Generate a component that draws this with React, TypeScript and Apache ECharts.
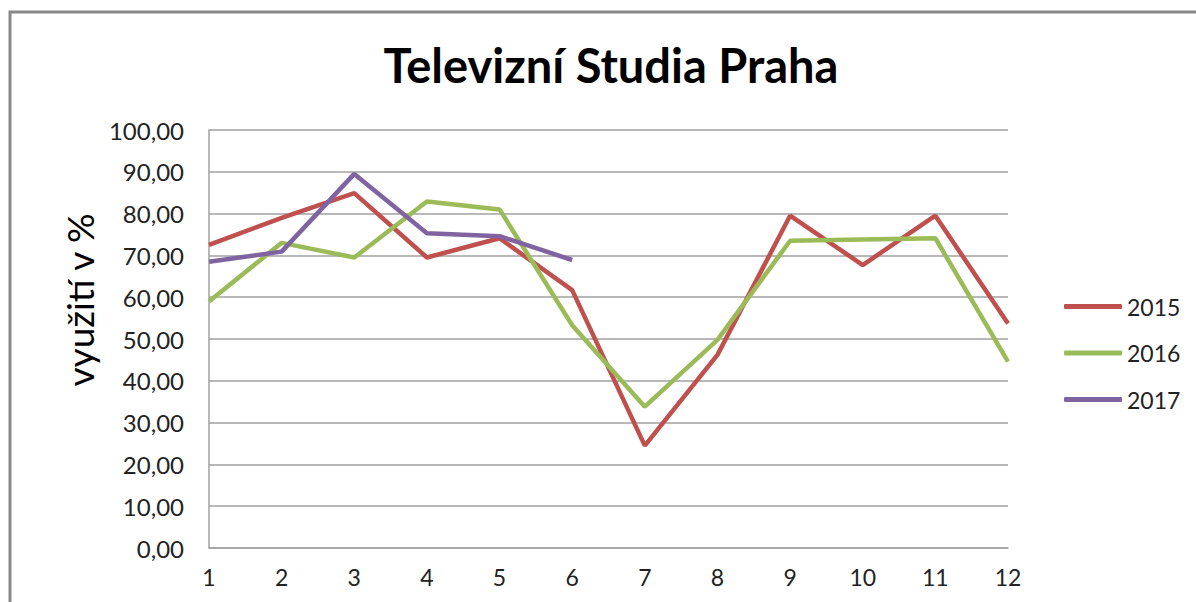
import React, { useEffect, useRef } from "react";
import * as echarts from "echarts";

const months = ["1", "2", "3", "4", "5", "6", "7", "8", "9", "10", "11", "12"];
const s2015 = [72.5, 79.0, 84.9, 69.5, 74.1, 61.7, 24.5, 46.2, 79.5, 67.7, 79.5, 53.7];
const s2016 = [59.0, 73.0, 69.5, 82.9, 81.0, 53.3, 33.8, 49.8, 73.5, 73.8, 74.1, 44.6];
const s2017 = [68.5, 70.9, 89.5, 75.3, 74.6, 68.9];
const seriesNames = ["2015", "2016", "2017"];
const colors = ["#C0504D", "#9BBB59", "#8064A2"];
const yTitle = "využití v %";

const FONT = "Lato";

export default function App() {
  const ref = useRef<HTMLDivElement>(null);
  useEffect(() => {
    if (!ref.current) return;
    const chart = echarts.init(ref.current, undefined, { renderer: "svg" });
    const data = [s2015, s2016, s2017];
    chart.setOption({
      animation: false,
      backgroundColor: "#ffffff",
      title: {
        text: "Televizní Studia Praha",
        left: 606,
        textAlign: "center",
        top: 36,
        textStyle: { fontFamily: FONT, fontWeight: "bold", fontSize: 47, color: "#000" },
      },
      graphic: [
        {
          type: "rect",
          shape: { x: 10, y: 12, width: 1400, height: 800 },
          style: { fill: "none", stroke: "#888888", lineWidth: 3 },
          silent: true,
        },
        {
          type: "text",
          x: 79,
          y: 300,
          rotation: Math.PI / 2,
          style: {
            text: yTitle,
            fontFamily: FONT,
            fontSize: 37,
            fill: "#000",
            align: "center",
            verticalAlign: "middle",
          },
          silent: true,
        },
      ],
      legend: {
        orient: "vertical",
        left: 1059,
        top: 290,
        itemWidth: 58,
        itemHeight: 5,
        itemGap: 23.5,
        icon: "roundRect",
        textStyle: { fontFamily: FONT, fontSize: 23, color: "#222", lineHeight: 22 },
        data: seriesNames,
      },
      grid: { left: 209, top: 130, width: 799, height: 418, containLabel: false },
      xAxis: {
        type: "category",
        data: months,
        boundaryGap: false,
        axisLine: { show: true, lineStyle: { color: "#A0A0A0", width: 1.5 } },
        axisTick: { show: false },
        axisLabel: { fontFamily: FONT, fontSize: 23, color: "#222", margin: 17 },
        splitLine: { show: false },
      },
      yAxis: {
        type: "value",
        min: 0,
        max: 100,
        interval: 10,
        axisLine: { show: true, lineStyle: { color: "#A0A0A0", width: 1.5 } },
        axisTick: { show: false },
        axisLabel: {
          fontFamily: FONT,
          fontSize: 24,
          color: "#222",
          margin: 25,
          formatter: (v: number) => v.toFixed(2).replace(".", ","),
        },
        splitLine: { show: true, lineStyle: { color: "#A0A0A0", width: 1.5 } },
      },
      series: seriesNames.map((n, i) => ({
        name: n,
        type: "line",
        data: data[i],
        symbol: "none",
        color: colors[i],
        lineStyle: { width: 4.5, color: colors[i] },
      })),
    });
    return () => chart.dispose();
  }, []);
  return (
    <div
      ref={ref}
      style={{ position: "fixed", left: 0, top: 0, width: 1196, height: 602 }}
    />
  );
}
